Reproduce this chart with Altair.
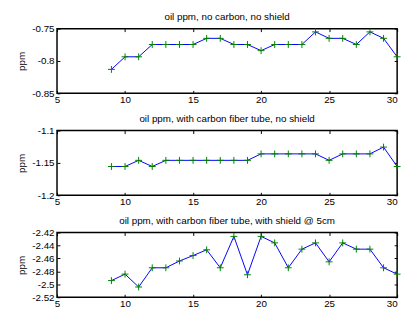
import altair as alt
import pandas as pd

t = list(range(9, 31))
oil_no_carbon = [-0.813, -0.7935, -0.7935, -0.7745, -0.7745, -0.7745, -0.7745,
                 -0.765, -0.765, -0.7745, -0.7745, -0.784, -0.7745, -0.7745,
                 -0.7745, -0.755, -0.765, -0.765, -0.7745, -0.755, -0.765, -0.7935]
oil_carbon = [-1.1555, -1.1555, -1.146, -1.1555, -1.146, -1.146, -1.146, -1.146,
              -1.146, -1.146, -1.146, -1.136, -1.136, -1.136, -1.136, -1.136,
              -1.146, -1.136, -1.136, -1.136, -1.1255, -1.1555]
oil_shield = [-2.4943, -2.4843, -2.5042, -2.4745, -2.4745, -2.464, -2.4556,
              -2.4467, -2.4745, -2.426, -2.4853, -2.426, -2.436, -2.4745,
              -2.4457, -2.436, -2.4653, -2.436, -2.4457, -2.4457, -2.4745, -2.4843]

titles = ["oil ppm, no carbon, no shield",
          "oil ppm, with carbon fiber tube, no shield",
          "oil ppm, with carbon fiber tube, with shield @ 5cm"]
x_ticks = [5, 10, 15, 20, 25, 30]
y_domains = [[-0.85, -0.75], [-1.2, -1.1], [-2.52, -2.42]]
y_ticks = [[-0.85, -0.8, -0.75], [-1.2, -1.15, -1.1],
           [-2.52, -2.5, -2.48, -2.46, -2.44, -2.42]]

FONT = "Liberation Sans"
EPS = 1e-6


def panel(vals, title, ydom, yticks):
    df = pd.DataFrame({"t": t, "ppm": vals})
    base = alt.Chart(df)
    xs = alt.Scale(domain=[5, 30], nice=False, zero=False)
    ys = alt.Scale(domain=[ydom[0] - EPS, ydom[1] + EPS], nice=False, zero=False)
    line = base.mark_line(color="#0000ff", strokeWidth=1).encode(
        x=alt.X("t:Q", scale=xs,
                axis=alt.Axis(values=x_ticks, offset=-3, tickSize=3,
                              domain=False, grid=False, labelPadding=1, title=None,
                              format="d", minExtent=0, labelOverlap=False,
                              labelFlush=False,
                              labelAlign={"expr": "datum.value == 30 ? 'right' : 'center'"})),
        y=alt.Y("ppm:Q", scale=ys,
                axis=alt.Axis(values=yticks, offset=-3, tickSize=3,
                              domain=False, grid=False, labelPadding=3, title="ppm",
                              titlePadding=2, titleFontWeight="normal",
                              minExtent=32, maxExtent=32, labelOverlap=False,
                              labelFlush=False, labelBound=False,
                              labelBaseline="middle",
                              labelExpr="replace(format(datum.value, '.2~f'), '\u2212', '-')")),
    )
    pts = base.mark_point(shape="M-1,0L1,0M0,-1L0,1", color="#008000", size=49,
                          strokeWidth=1, filled=False, opacity=1).encode(
        x=alt.X("t:Q", scale=xs,
                axis=alt.Axis(orient="top", values=x_ticks, offset=-3,
                              tickSize=3, domain=False, grid=False, labels=False,
                              title=None, minExtent=0, maxExtent=0)),
        y=alt.Y("ppm:Q", scale=ys,
                axis=alt.Axis(orient="right", values=yticks, offset=-3,
                              tickSize=3, domain=False, grid=False, labels=False,
                              title=None, minExtent=0, maxExtent=0)),
    )
    return alt.layer(line, pts).resolve_axis(x="independent", y="independent").properties(
        width=347, height=66,
        title=alt.TitleParams(title, fontSize=10, fontWeight="normal", font=FONT,
                              color="black", offset=2),
    )


chart = alt.vconcat(
    panel(oil_no_carbon, titles[0], y_domains[0], y_ticks[0]),
    panel(oil_carbon, titles[1], y_domains[1], y_ticks[1]),
    panel(oil_shield, titles[2], y_domains[2], y_ticks[2]),
    spacing=8,
).properties(
    padding={"left": 8, "top": 0, "right": 0, "bottom": 0},
    background="white",
).configure_view(
    stroke="black", strokeWidth=1.5
).configure_axis(
    labelFont=FONT, labelFontSize=10, labelColor="black",
    titleFont=FONT, titleFontSize=10, titleFontWeight="normal", titleColor="black",
    tickColor="black", tickWidth=1,
)

chart.save("out.html", embed_options={"renderer": "svg", "actions": False})
